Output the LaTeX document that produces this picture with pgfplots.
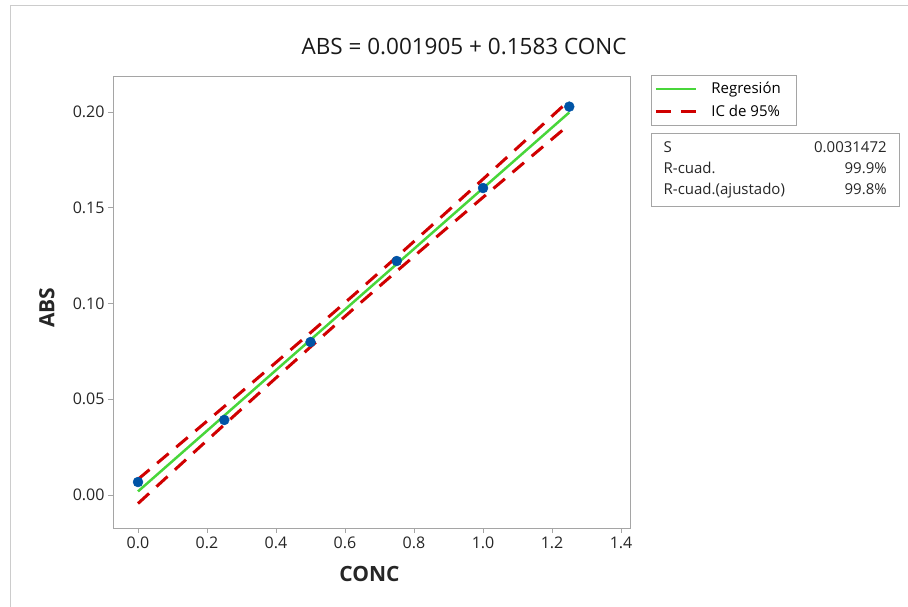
\documentclass[border=0pt]{standalone}
\usepackage{fontspec}
\setmainfont{Open Sans}
\usepackage{pgfplots}
\pgfplotsset{compat=1.18}

\definecolor{reggreen}{RGB}{72,214,58}
\definecolor{cired}{RGB}{208,0,0}
\definecolor{ptblue}{RGB}{0,84,166}
\definecolor{framegray}{RGB}{165,165,165}

% puntos medidos
\pgfplotstableread{
x y
0.00 0.0068
0.25 0.0392
0.50 0.0799
0.75 0.1222
1.00 0.1603
1.25 0.2028
}\datos

% recta ajustada e intervalo de confianza 95%
\pgfplotstableread{
x fit upper lower
0.000 0.001905 0.008228 -0.004418
0.125 0.021693 0.027186 0.016200
0.250 0.041480 0.046227 0.036733
0.375 0.061268 0.065401 0.057135
0.500 0.081055 0.084772 0.077338
0.625 0.100843 0.104410 0.097276
0.750 0.120630 0.124347 0.116913
0.875 0.140418 0.144551 0.136285
1.000 0.160205 0.164952 0.155458
1.125 0.179993 0.185486 0.174500
1.250 0.199780 0.206103 0.193457
}\ajuste

\begin{document}
\begin{tikzpicture}[x=1pt,y=1pt]
\useasboundingbox (0,0) rectangle (908,607);
\draw[black!20, line width=1pt] (10.5,0) -- (10.5,601.5) -- (908,601.5);
\begin{axis}[
  at={(113pt,79pt)}, anchor=south west,
  scale only axis, width=517pt, height=452pt,
  xmin=-0.0725, xmax=1.426, ymin=-0.0172, ymax=0.2188,
  xtick={0,0.2,0.4,0.6,0.8,1.0,1.2,1.4},
  ytick={0,0.05,0.10,0.15,0.20},
  xtick pos=left, ytick pos=left,
  tick align=outside, major tick length=5pt,
  axis line style={framegray}, tick style={framegray, line width=0.8pt},
  /pgf/number format/assume math mode=true,
  tick label style={font=\fontsize{16}{18}\selectfont, text=black!85},
  x tick label style={/pgf/number format/.cd, fixed, fixed zerofill, precision=1},
  y tick label style={/pgf/number format/.cd, fixed, fixed zerofill, precision=2},
  xlabel={CONC}, ylabel={ABS},
  label style={font=\fontsize{21}{24}\selectfont\bfseries, text=black!85},
  xlabel style={at={(axis description cs:0.496,-0.102)}, anchor=center},
  ylabel style={at={(axis description cs:-0.128,0.487)}, anchor=center},
  legend style={at={(1.041,1.002)}, anchor=north west, draw=framegray,
    font=\fontsize{15}{17}\selectfont, inner xsep=3pt, inner ysep=5pt,
    row sep=6pt, cells={anchor=west}},
  legend cell align=left,
  legend image code/.code={\draw[#1] (0pt,0pt) -- (40pt,0pt);},
]
\addplot[reggreen, line width=2.5pt] table[x=x, y=fit] {\ajuste};
\addlegendentry{\hspace{12pt}Regresión\kern10pt}
\addplot[cired, line width=3pt, dash pattern=on 15pt off 10pt] table[x=x, y=upper] {\ajuste};
\addlegendentry{\hspace{12pt}IC de 95\%}
\addplot[cired, line width=3pt, dash pattern=on 15pt off 10pt, forget plot] table[x=x, y=lower] {\ajuste};
\addplot[only marks, mark=*, mark size=5pt, ptblue, forget plot] table[x=x, y=y] {\datos};
\end{axis}

\node[font=\fontsize{22.5}{26}\selectfont, text=black!90] at (464,560) {ABS = 0.001905 + 0.1583 CONC};

\node[draw=framegray, anchor=north west, inner xsep=12.5pt, inner ysep=5pt,
      font=\fontsize{15}{21}\selectfont, text=black!85] at (651,474) {%
  \begin{tabular*}{223pt}{@{}l@{\extracolsep{\fill}}r@{}}
  S & 0.0031472\\
  R-cuad. & 99.9\%\\
  R-cuad.(ajustado) & 99.8\%
  \end{tabular*}};
\end{tikzpicture}
\end{document}
